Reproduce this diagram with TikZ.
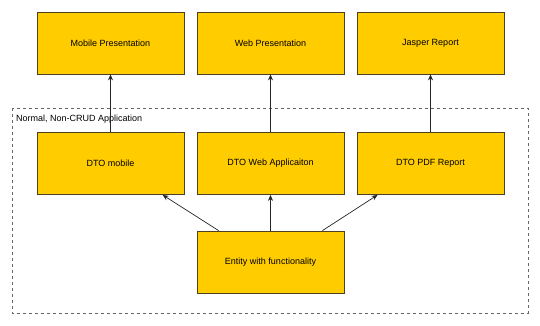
\documentclass[tikz,border=0pt]{standalone}
\usepackage{fontspec}
\setmainfont{Liberation Sans}
\usepackage{tikz}
\usetikzlibrary{
    arrows.meta,
    positioning
}
\usepackage{xcolor}
\definecolor{boxfill}{HTML}{FFCC00}
\definecolor{boxline}{HTML}{4D4020}

\begin{document}
\begin{tikzpicture}[
        x=1pt, y=-1pt,
        >={Stealth[length=6pt,width=5pt]},
        layer/.style={
            rectangle,
            draw=boxline,
            fill=boxfill,
            line width=0.8pt,
            minimum width=147pt,
            minimum height=62pt,
            inner sep=0pt,
            font=\fontsize{9}{11}\selectfont
        },
        link/.style={
            ->,
            line width=0.7pt,
            draw=black!85
        }
    ]
        \useasboundingbox (0,0) rectangle (540,326);
        % outer application frame
        \draw[dashed, draw=black!60, line width=0.8pt] (12,108) rectangle (528,313);
        \node[anchor=west, inner sep=0pt, font=\fontsize{9}{11}\selectfont] (app) at (16,119) {Normal, Non-CRUD Application};

        % presentation layer
        \node[layer] (MP) at (110.5,43) {Mobile Presentation};
        \node[layer] (WP) at (270.5,43) {Web Presentation};
        \node[layer] (JR) at (430.5,43) {Jasper Report};

        % dto layer
        \node[layer] (DM) at (110.5,163.5) {DTO mobile};
        \node[layer] (DW) at (270.5,163.5) {DTO Web Applicaiton};
        \node[layer] (DP) at (430.5,163.5) {DTO PDF Report};

        \node[layer] (EF) at (270.5,262) {Entity with functionality};

        \draw[link] (DM) -- (MP);
        \draw[link] (DW) -- (WP);
        \draw[link] (DP) -- (JR);
        \draw[link] ([xshift=22pt]EF.north west) -- ([xshift=126pt]DM.south west);
        \draw[link] (EF) -- (DW);
        \draw[link] ([xshift=-22pt]EF.north east) -- ([xshift=21pt]DP.south west);
    \end{tikzpicture}
\end{document}
